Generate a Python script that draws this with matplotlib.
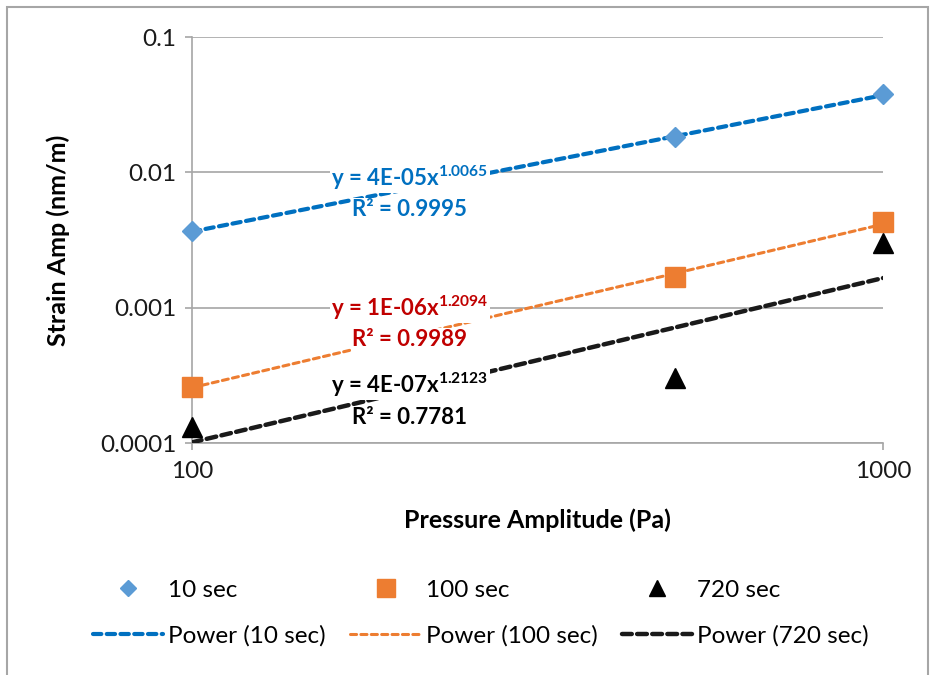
import numpy as np
import matplotlib.pyplot as plt
from matplotlib.patches import Rectangle
from matplotlib.lines import Line2D

plt.rcParams['font.family'] = ['Lato', 'DejaVu Sans']
plt.rcParams['mathtext.fontset'] = 'custom'
plt.rcParams['mathtext.rm'] = 'Lato:bold'
plt.rcParams['mathtext.it'] = 'Lato:bold'
plt.rcParams['mathtext.bf'] = 'Lato:bold'

# data
pressure = [100, 500, 1000]
strain_10 = [0.00367, 0.0181, 0.0377]
strain_100 = [0.000261, 0.00169, 0.00431]
strain_720 = [0.000131, 0.000302, 0.00302]
series_names = ['10 sec', '100 sec', '720 sec']
fit_labels = [('4E-05', '1.0065', '0.9995'),
              ('1E-06', '1.2094', '0.9989'),
              ('4E-07', '1.2123', '0.7781')]

fig = plt.figure(figsize=(9.3, 6.75), dpi=100)
ax = fig.add_axes([192/930, 1-443/675, (883-192)/930, (443-37)/675])

grid_col = '#a6a6a6'
ax.set_xscale('log')
ax.set_yscale('log')
ax.set_xlim(100, 1000)
ax.set_ylim(0.0001, 0.1)
ax.set_xticks([100, 1000])
ax.set_xticklabels(['100', '1000'])
ax.set_yticks([0.0001, 0.001, 0.01, 0.1])
ax.set_yticklabels(['0.0001', '0.001', '0.01', '0.1'])
ax.minorticks_off()
ax.grid(axis='y', color=grid_col, lw=1.2)
for s in ['top', 'right']:
    ax.spines[s].set_visible(False)
for s in ['left', 'bottom']:
    ax.spines[s].set_color(grid_col)
    ax.spines[s].set_linewidth(1.2)
ax.tick_params(length=5, width=1.2, color=grid_col, labelsize=17.5, pad=6,
               labelcolor='#1a1a1a')
ax.tick_params(axis='x', pad=8)
ax.set_axisbelow(True)

ax.set_xlabel('Pressure Amplitude (Pa)', fontsize=18, fontweight='bold')
ax.set_ylabel('Strain Amp (nm/m)', fontsize=18, fontweight='bold')
ax.xaxis.set_label_coords(0.5, -(520-443)/406)
ax.xaxis.label.set_va('center')
ax.yaxis.set_label_coords((58-192)/691, 0.5)
ax.yaxis.label.set_va('center')

# trend lines (power fits in log space)
styles = [
    dict(color='#0070c0', lw=3.0, dashes=(2.0, 1.3)),
    dict(color='#ed7d31', lw=2.2, dashes=(2.0, 1.4)),
    dict(color='#1a1a1a', lw=3.2, dashes=(2.2, 1.2)),
]
markers = [
    dict(marker='D', color='#5b9bd5', ms=10),
    dict(marker='s', color='#ed7d31', ms=14.5),
    dict(marker='^', color='#000000', ms=14),
]
x = np.array(pressure, dtype=float)
xf = np.logspace(2, 3, 50)
all_y = [strain_10, strain_100, strain_720]
for y, st in zip(all_y, styles):
    b, a = np.polyfit(np.log10(x), np.log10(y), 1)
    ax.plot(xf, 10**a * xf**b, dash_capstyle='round', zorder=3, **st)
for y, mk in zip(all_y, markers):
    ax.plot(x, y, ls='none', zorder=4, clip_on=False, **mk)

# equation labels
label_cols = ['#0070c0', '#c00000', '#000000']
label_pos = [(0.315, 0.653, 0.574), (0.315, 0.3325, 0.254), (0.315, 0.143, 0.062)]
for (c, p, r2), col, (lx, ly1, ly2) in zip(fit_labels, label_cols, label_pos):
    ax.text(lx, ly1, r'$\text{y = %sx}^{%s}$' % (c, p), transform=ax.transAxes,
            ha='center', va='center', fontsize=16, color=col, zorder=5,
            bbox=dict(fc='white', ec='none', pad=1))
    ax.text(lx, ly2, 'R² = ' + r2, transform=ax.transAxes, ha='center', va='center',
            fontsize=16, fontweight='bold', color=col, zorder=5,
            bbox=dict(fc='white', ec='none', pad=1))

# legend
handles = []
labels = []
for name, mk, st in zip(series_names, markers, styles):
    handles.append(Line2D([], [], ls='none', **mk))
    labels.append(name)
    handles.append(Line2D([], [], dash_capstyle='round', **st))
    labels.append('Power (' + name + ')')
fig.legend(handles, labels, ncol=3, loc='center', bbox_to_anchor=(0.517, 1-613/675),
           frameon=False, fontsize=17.5, handlelength=2.9, columnspacing=1.0,
           handletextpad=0.2, labelspacing=1.0, markerscale=0.85)

# thin outer chart border
fig.patches.append(Rectangle((7/930, -0.01), (928-7)/930, 1.01-7/675,
                             transform=fig.transFigure, fill=False,
                             ec='#a6a6a6', lw=1.5))

fig.savefig('out.png', dpi=100)
